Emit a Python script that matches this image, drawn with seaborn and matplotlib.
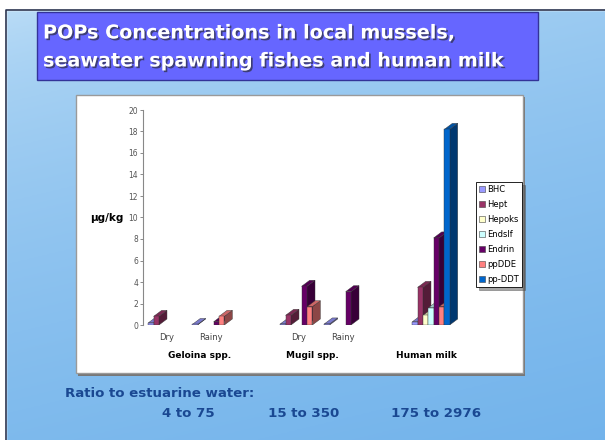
import numpy as np
import pandas as pd
import matplotlib
matplotlib.use("Agg")
import matplotlib.pyplot as plt
import matplotlib.patheffects as pe
from matplotlib.patches import Rectangle, Polygon, Patch
from matplotlib.colors import to_rgb
import seaborn as sns

# ── data ──────────
samples = ["G-Dry", "G-Rainy", "M-Dry", "M-Rainy", "Human milk"]
order = ["G-Dry", "G-Rainy", " ", "M-Dry", "M-Rainy", "  ", "Human milk"]
tick_labels = ["Dry", "Rainy", "", "Dry", "Rainy", "", ""]
groups = ["Geloina spp.", "Mugil spp.", "Human milk"]
compounds = ["BHC", "Hept", "Hepoks", "Endslf", "Endrin", "ppDDE", "pp-DDT"]
colors = ["#9999FF", "#993366", "#FFFFCC", "#CCFFFF", "#660066", "#FF8080", "#0066CC"]

bhc    = [0.2, 0.05, 0.1, 0.1, 0.3]
hept   = [0.8, 0.0, 0.9, 0.0, 3.5]
hepoks = [0.0, 0.0, 0.0, 0.0, 0.9]
endslf = [0.0, 0.0, 0.0, 0.0, 1.6]
endrin = [0.0, 0.3, 3.6, 3.1, 8.1]
ppdde  = [0.0, 0.8, 1.7, 0.0, 1.7]
ppddt  = [0.0, 0.0, 0.0, 0.0, 18.2]

ratio_labels = ["4 to 75", "15 to 350", "175 to 2976"]

series = [bhc, hept, hepoks, endslf, endrin, ppdde, ppddt]
df = pd.DataFrame([(s, c, v) for c, vals in zip(compounds, series)
                   for s, v in zip(samples, vals)],
                  columns=["sample", "compound", "value"])

W, H = 605, 440
def fx(x): return x / W
def fy(y): return 1 - y / H

fig = plt.figure(figsize=(W / 100, H / 100), dpi=100)

# ── slide background ──
bg = fig.add_axes([0, 0, 1, 1], zorder=-10)
yy, xx = np.mgrid[0:1:200j, 0:1:200j]
t = np.clip(0.75 * yy + 0.25 * xx, 0, 1)
top, bot = np.array(to_rgb("#c6e3f8")), np.array(to_rgb("#72b3eb"))
img = top * (1 - t[..., None] ** 0.5) + bot * (t[..., None] ** 0.5)
bg.imshow(img, extent=[0, 1.02, -0.02, 1], aspect="auto", origin="upper")
bg.set_xlim(0, 1); bg.set_ylim(0, 1); bg.axis("off")
# white margins + slide border
bg.add_patch(Rectangle((0, fy(10)), 1, 1, color="white", zorder=2))
bg.add_patch(Rectangle((0, 0), fx(6), 1, color="white", zorder=2))
bg.plot([fx(6), fx(6), 1.05], [-0.05, fy(10), fy(10)], color="#2b3550", lw=1.2, zorder=3)

# title box
bg.add_patch(Rectangle((fx(37), fy(80)), fx(538) - fx(37), fy(12) - fy(80),
                       facecolor="#6666ff", edgecolor="#333399", lw=1, zorder=3))
shadow = [pe.withSimplePatchShadow(offset=(1.2, -1.2), shadow_rgbFace="#333355", alpha=0.8)]
for txt, y in [("POPs Concentrations in local mussels,", 33),
               ("seawater spawning fishes and human milk", 61)]:
    bg.text(fx(43), fy(y), txt, color="white", fontsize=13.8, fontweight="bold",
            va="center", ha="left", zorder=4, path_effects=shadow)

# chart frame
bg.add_patch(Rectangle((fx(78), fy(376)), fx(525) - fx(78), fy(97) - fy(376),
                       facecolor="#777777", edgecolor="none", zorder=3))
bg.add_patch(Rectangle((fx(76), fy(373)), fx(523) - fx(76), fy(95) - fy(373),
                       facecolor="white", edgecolor="#9a9a9a", lw=1, zorder=3))

# ratio text
navy = "#1a4892"
bg.text(fx(65), fy(393), "Ratio to estuarine water:", color=navy, fontsize=9.6,
        fontweight="bold", va="center", ha="left", zorder=4)
for txt, x in zip(ratio_labels, [188, 304, 436]):
    bg.text(fx(x), fy(413), txt, color=navy, fontsize=9.6, fontweight="bold",
            va="center", ha="center", zorder=4)

# ── bars ──
ax = fig.add_axes([fx(143), fy(325), fx(470) - fx(143), fy(110) - fy(325)])
ax.patch.set_alpha(0)
sns.barplot(data=df, x="sample", y="value", hue="compound", order=order,
            hue_order=compounds, palette=colors, saturation=1, width=0.85,
            edgecolor="#333333", linewidth=0.3, legend=False, ax=ax)
ax.set_xlim(-0.545, (470 - 167) / 44)
ax.set_ylim(0, 20)

# fake 3-D depth
dx = 8 * (ax.get_xlim()[1] - ax.get_xlim()[0]) / (470 - 143)
dy = 6 * 20 / 215
bars = sorted([p for p in ax.patches if p.get_height() > 0], key=lambda p: p.get_x())
for p in list(ax.patches):
    if p.get_height() <= 0:
        p.remove()
for i, p in enumerate(bars):
    x0, w, h = p.get_x(), p.get_width(), p.get_height()
    c = np.array(p.get_facecolor()[:3])
    z = 3 + i * 0.01
    ax.add_patch(Polygon([(x0 + w, 0), (x0 + w + dx, dy), (x0 + w + dx, h + dy), (x0 + w, h)],
                         closed=True, facecolor=c * 0.55, edgecolor="#333333", lw=0.3, zorder=z))
    ax.add_patch(Polygon([(x0, h), (x0 + dx, h + dy), (x0 + w + dx, h + dy), (x0 + w, h)],
                         closed=True, facecolor=c * 0.8, edgecolor="#333333", lw=0.3, zorder=z))
    p.set_zorder(z + 0.005)

ax.set_yticks(range(0, 21, 2))
ax.set_xticks(range(len(order)))
ax.set_xticklabels(tick_labels)
ax.tick_params(axis="x", length=0, pad=6, labelsize=6, labelcolor="#444444")
ax.tick_params(axis="y", length=2, width=0.6, pad=1.5, labelsize=5.5,
               labelcolor="#555555", color="#777777")
for s in ["top", "right", "bottom"]:
    ax.spines[s].set_visible(False)
ax.spines["left"].set_color("#888888")
ax.spines["left"].set_linewidth(0.8)
ax.set_xlabel("")
ax.set_ylabel("")

fig.text(fx(107), fy(218), "µg/kg", fontsize=7.5, fontweight="bold", ha="center", va="center")
for g, x in zip(groups, [0.75, 3.3, 5.9]):
    ax.text(x, -0.14, g, transform=ax.get_xaxis_transform(), fontsize=6.5,
            fontweight="bold", ha="center", va="center")

# legend
handles = [Patch(facecolor=c, edgecolor="#444444", lw=0.4) for c in colors]
leg = ax.legend(handles, compounds, loc="upper right", bbox_to_anchor=(fx(522), fy(182)),
                bbox_transform=fig.transFigure, fontsize=6, frameon=True, fancybox=False,
                shadow=True, edgecolor="black", handlelength=0.7, handleheight=0.7,
                labelspacing=0.72, borderpad=0.35, handletextpad=0.3, borderaxespad=0)
leg.get_frame().set_linewidth(0.6)

plt.savefig("out.png", dpi=100)
